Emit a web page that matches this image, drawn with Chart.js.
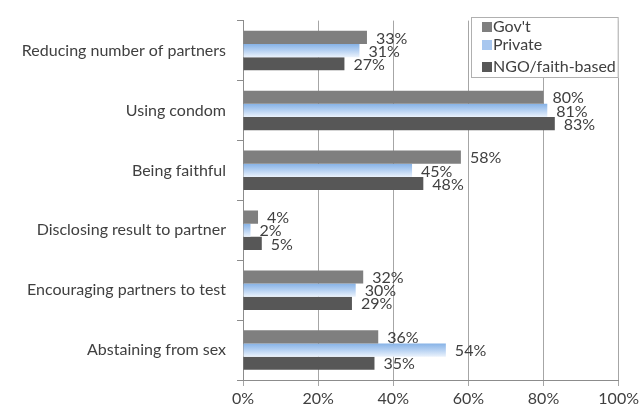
<!DOCTYPE html>
<html>
<head>
  <meta charset="UTF-8">
  <title>Risk reduction messages</title>
  <script src="https://cdn.jsdelivr.net/npm/chart.js"></script>
  <style>
    html, body { margin: 0; padding: 0; background: #fff; }
    #wrap { width: 642px; height: 407px; }
  </style>
</head>
<body>
  <div id="wrap"><canvas id="riskChart" width="642" height="407"></canvas></div>

  <script>
    const categories = [
      'Reducing number of partners',
      'Using condom',
      'Being faithful',
      'Disclosing result to partner',
      'Encouraging partners to test',
      'Abstaining from sex'
    ];
    const seriesNames = ["Gov't", 'Private', 'NGO/faith-based'];
    const govt = [33, 80, 58, 4, 32, 36];
    const privateSector = [31, 81, 45, 2, 30, 54];
    const ngo = [27, 83, 48, 5, 29, 35];
    const xTicks = [0, 20, 40, 60, 80, 100];

    const FONT = "Lato, sans-serif";
    const CAT_PCT = 0.66;

    // light blue gradient across each private bar
    function privateFill(ctx) {
      const chart = ctx.chart;
      const ys = chart.scales.y;
      const plain = '#aecbef';
      if (!ys || ctx.dataIndex == null) return plain;
      const c = ys.getPixelForValue(ctx.dataIndex);
      const h = (ys.height / categories.length) * CAT_PCT / 3;
      if (!isFinite(c) || !isFinite(h) || h <= 0) return plain;
      const g = chart.ctx.createLinearGradient(0, c - h / 2, 0, c + h / 2);
      g.addColorStop(0, '#86b2e6');
      g.addColorStop(0.5, '#b6d1f2');
      g.addColorStop(1, '#eaf2fc');
      return g;
    }

    const valueLabels = {
      id: 'valueLabels',
      afterDatasetsDraw(chart) {
        const c = chart.ctx;
        c.save();
        c.font = '16px ' + FONT;
        c.fillStyle = '#404040';
        c.textBaseline = 'middle';
        chart.data.datasets.forEach((ds, i) => {
          chart.getDatasetMeta(i).data.forEach((bar, j) => {
            c.fillText(ds.data[j] + '%', bar.x + 9, bar.y + 1);
          });
        });
        c.restore();
      }
    };

    const boxLegend = {
      id: 'boxLegend',
      afterDraw(chart) {
        const c = chart.ctx;
        const right = chart.chartArea.right;
        const x0 = 471, y0 = 17, w = right - x0, h = 61;
        c.save();
        c.fillStyle = '#fff';
        c.fillRect(x0, y0, w, h);
        c.strokeStyle = '#b0b0b0';
        c.lineWidth = 1;
        c.strokeRect(x0 + 0.5, y0 + 0.5, w - 1, h - 1);
        c.font = '16px ' + FONT;
        c.textBaseline = 'middle';
        const rows = [27, 45, 67];
        chart.data.datasets.forEach((ds, i) => {
          const fill = i === 1 ? '#a8c7ef' : ds.backgroundColor;
          c.fillStyle = fill;
          c.fillRect(x0 + 11, rows[i] - 5, 10, 10);
          c.fillStyle = '#404040';
          c.fillText(ds.label, x0 + 22, rows[i]);
        });
        c.restore();
      }
    };

    const chart = new Chart(document.getElementById('riskChart'), {
      type: 'bar',
      data: {
        labels: categories,
        datasets: [
          { label: seriesNames[0], data: govt, backgroundColor: '#7f7f7f' },
          { label: seriesNames[1], data: privateSector, backgroundColor: privateFill },
          { label: seriesNames[2], data: ngo, backgroundColor: '#575757' }
        ]
      },
      options: {
        indexAxis: 'y',
        responsive: false,
        animation: false,
        layout: { padding: { top: 17, right: 21, bottom: 0, left: 0 } },
        datasets: { bar: { categoryPercentage: CAT_PCT, barPercentage: 1 } },
        scales: {
          x: {
            min: 0, max: 100,
            afterBuildTicks: s => { s.ticks = xTicks.map(v => ({ value: v })); },
            afterFit: s => { s.height = 27; },
            ticks: {
              callback: v => v + '%',
              color: '#404040',
              font: { family: FONT, size: 16 },
              padding: 3
            },
            grid: { color: '#a6a6a6', tickLength: 6 },
            border: { color: '#8c8c8c' }
          },
          y: {
            afterFit: s => { s.width = 243; },
            ticks: {
              color: '#404040',
              font: { family: FONT, size: 16 },
              padding: 11
            },
            grid: { offset: true, drawOnChartArea: false, color: '#8c8c8c', tickLength: 6 },
            border: { color: '#8c8c8c' }
          }
        },
        plugins: {
          legend: { display: false },
          tooltip: { enabled: false }
        }
      },
      plugins: [valueLabels, boxLegend]
    });
    chart.update();
  </script>
</body>
</html>
